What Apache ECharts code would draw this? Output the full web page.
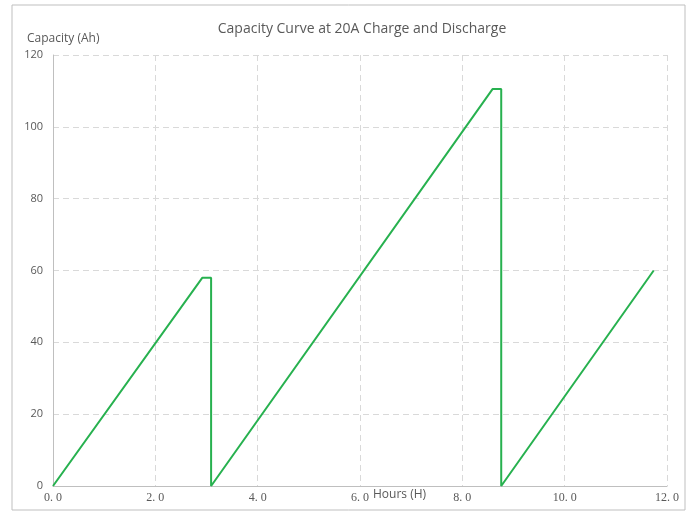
<!DOCTYPE html>
<html>
<head>
<meta charset="utf-8">
<script src="https://cdn.jsdelivr.net/npm/echarts@6/dist/echarts.min.js"></script>
<style>
  html, body { margin: 0; padding: 0; background: #fff; }
</style>
</head>
<body>
<div id="chartMain" style="width: 696px; height: 514px"></div>
<script>
// hours / capacity
var hours = [0, 2.92, 3.09, 3.09, 8.59, 8.76, 8.76, 11.74];
var capacity = [0, 58, 58, 0, 110.5, 110.5, 0, 60];
var xTicks = [0, 2, 4, 6, 8, 10, 12];
var yTicks = [0, 20, 40, 60, 80, 100, 120];

var points = [];
hours.forEach(function (h, i) {
  points.push([h, capacity[i]]);
});

var myChart = echarts.init(document.getElementById("chartMain"));
var option = {
  backgroundColor: "#fff",
  animation: false,
  title: {
    text: "Capacity Curve at 20A Charge and Discharge",
    left: 357,
    top: 17,
    textAlign: "center",
    textStyle: {
      fontFamily: "Open Sans",
      fontSize: 14,
      fontWeight: "normal",
      color: "#595959",
    },
  },
  graphic: [
    {
      type: "rect",
      shape: { x: 12, y: 5, width: 673, height: 505 },
      style: { fill: "none", stroke: "#bfbfbf", lineWidth: 1 },
      silent: true,
    },
    {
      type: "text",
      left: 373,
      top: 489,
      style: {
        text: "Hours (H)",
        font: "12px 'Open Sans'",
        fill: "#595959",
      },
    },
  ],
  grid: {
    left: 53,
    right: 29,
    top: 55,
    bottom: 28,
  },
  xAxis: {
    type: "value",
    min: xTicks[0],
    max: xTicks[xTicks.length - 1],
    interval: 2,
    axisLine: { show: true, lineStyle: { color: "#bfbfbf" } },
    axisTick: { show: false },
    axisLabel: {
      color: "#595959",
      fontFamily: "Liberation Serif",
      fontSize: 12,
      margin: 6,
      formatter: function (v) {
        return v.toFixed(1).replace(".", ". ");
      },
    },
    splitLine: {
      show: true,
      lineStyle: { color: "#d9d9d9", type: [6, 4] },
    },
  },
  yAxis: {
    type: "value",
    name: "Capacity (Ah)",
    nameLocation: "end",
    nameGap: 10,
    nameTextStyle: {
      color: "#595959",
      fontFamily: "Open Sans",
      fontSize: 12,
      align: "left",
      padding: [0, 0, 0, -26],
    },
    min: yTicks[0],
    max: yTicks[yTicks.length - 1],
    interval: 20,
    axisLine: { show: true, lineStyle: { color: "#bfbfbf" } },
    axisTick: { show: false },
    axisLabel: {
      color: "#595959",
      fontFamily: "Open Sans",
      fontSize: 11,
      margin: 10,
    },
    splitLine: {
      show: true,
      lineStyle: { color: "#d9d9d9", type: [6, 4] },
    },
  },
  series: [
    {
      name: "Capacity",
      type: "line",
      data: points,
      showSymbol: false,
      lineStyle: { color: "#27b14f", width: 2 },
      itemStyle: { color: "#27b14f" },
    },
  ],
};
myChart.setOption(option);
</script>
</body>
</html>
